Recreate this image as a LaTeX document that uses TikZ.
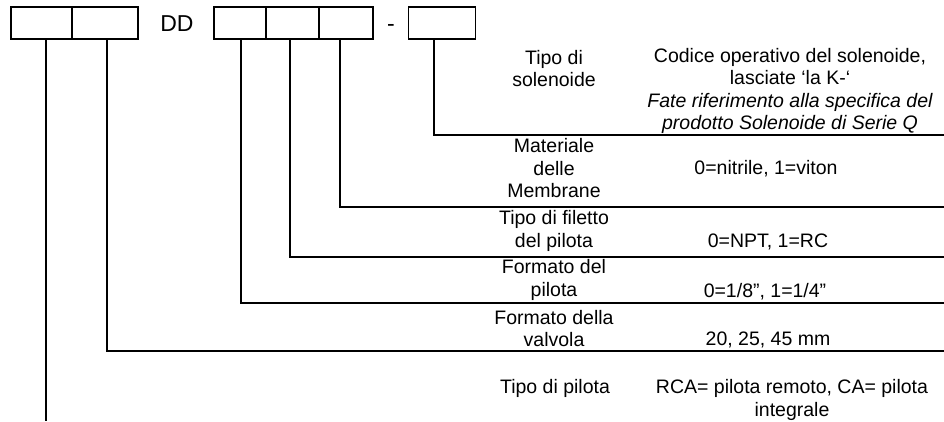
\documentclass[tikz,border=0pt]{standalone}
\usepackage{fontspec}
\setmainfont{Liberation Sans}
\usepackage{tikz}

\tikzset{
 cella/.style={draw, line width=1.1pt, minimum height=32pt, inner sep=0pt},
 voce/.style={align=center, inner sep=0pt, font=\fontsize{19.5}{22.5}\selectfont},
 sigla/.style={inner sep=0pt, anchor=base, font=\fontsize{23}{26}\selectfont},
 linea/.style={line width=1.1pt}
}

\begin{document}
\begin{tikzpicture}[x=1pt, y=-1pt]
 \useasboundingbox (0,0) rectangle (944,421);
 % caselle del codice
 \node[cella, minimum width=61pt] (b1) at (41.5,23) {};
 \node[cella, minimum width=66pt] (b2) at (105,23) {};
 \node[sigla] (dd) at (177,31.5) {DD};
 \node[cella, minimum width=52pt] (b3) at (240,23) {};
 \node[cella, minimum width=53pt] (b4) at (292.5,23) {};
 \node[cella, minimum width=54pt] (b5) at (346,23) {};
 \node[sigla] (trat) at (391,31.5) {-};
 \node[cella, minimum width=67pt] (b6) at (442,23) {};

 \coordinate (c1) at (46,421);
 \coordinate (c2) at (107,351);
 \coordinate (c3) at (241,303);
 \coordinate (c4) at (290,257);
 \coordinate (c5) at (340,207);
 \coordinate (c6) at (434,135);
 \draw[linea] (b1.south -| c1) -- (c1);
 \draw[linea] (b2.south -| c2) -- (c2) -- (c2 -| 944,0);
 \draw[linea] (b3.south -| c3) -- (c3) -- (c3 -| 944,0);
 \draw[linea] (b4.south -| c4) -- (c4) -- (c4 -| 944,0);
 \draw[linea] (b5.south -| c5) -- (c5) -- (c5 -| 944,0);
 \draw[linea] (b6.south -| c6) -- (c6) -- (c6 -| 944,0);

 % descrizioni
 \node[voce] (s1) at (554,68.5) {Tipo di\\solenoide};
 \node[voce] (v1) at (790,91) {Codice operativo del solenoide,\\lasciate ‘la K-‘\\\itshape Fate riferimento alla specifica del\\\itshape prodotto Solenoide di Serie Q};
 \node[voce] (s2) at (554,168.5) {Materiale\\delle\\Membrane};
 \node[voce] (v2) at (766,168.5) {0=nitrile, 1=viton};
 \node[voce] (s3) at (554,231) {Tipo di filetto\\del pilota};
 \node[voce] (v3) at (768,242) {0=NPT, 1=RC};
 \node[voce] (s4) at (554,280) {Formato del\\pilota};
 \node[voce] (v4) at (765,292) {0=1/8”, 1=1/4”};
 \node[voce] (s5) at (554,328.5) {Formato della\\valvola};
 \node[voce] (v5) at (768,340) {20, 25, 45 mm};
 \node[voce] (s6) at (555,388) {Tipo di pilota};
 \node[voce] (v6) at (792,400) {RCA= pilota remoto, CA= pilota\\integrale};
\end{tikzpicture}
\end{document}
